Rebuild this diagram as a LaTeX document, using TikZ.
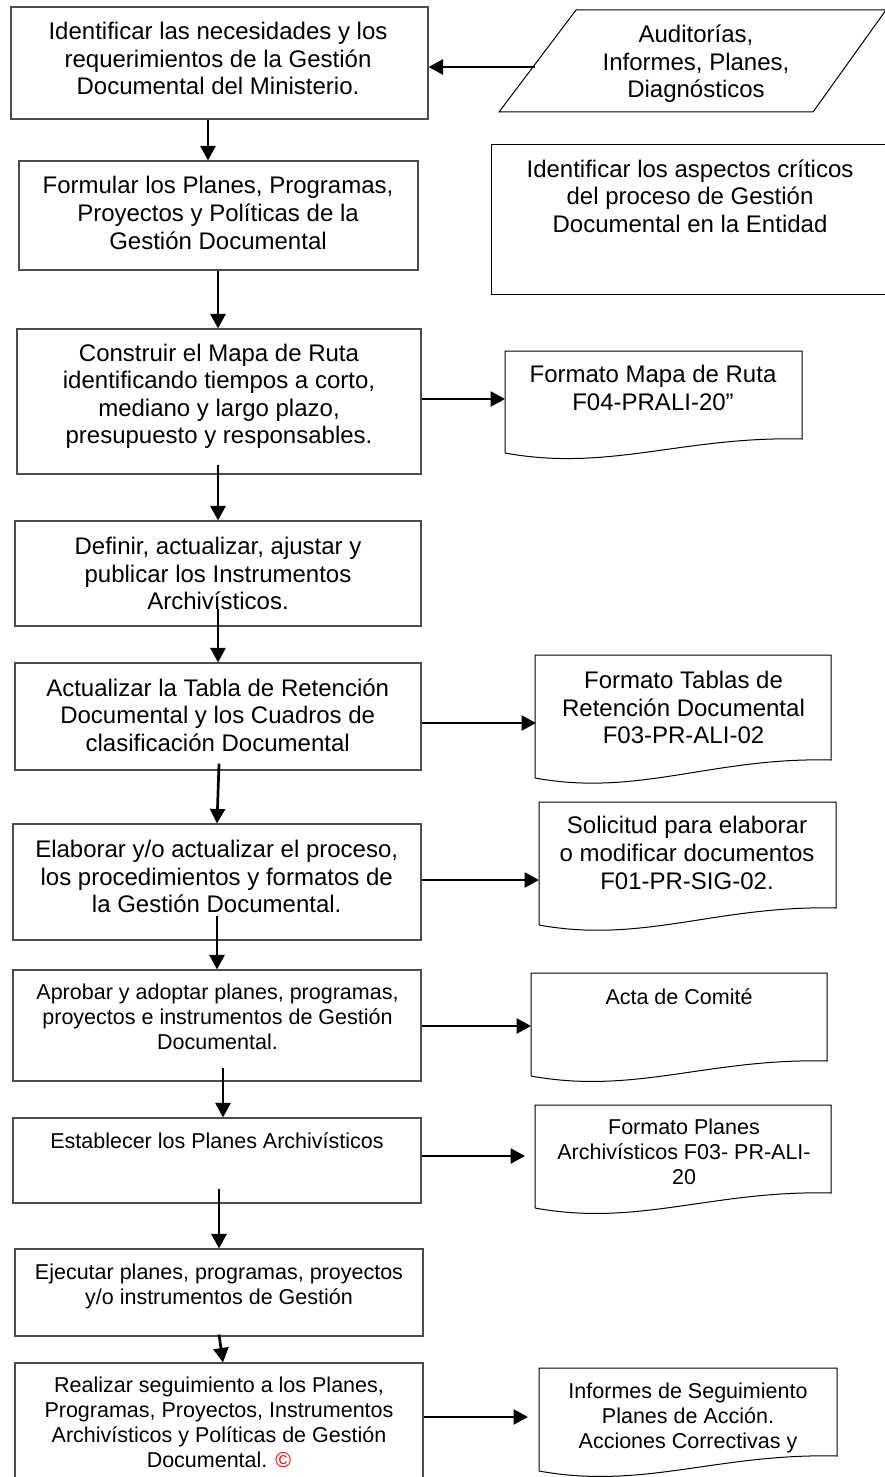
\documentclass[tikz,border=0pt]{standalone}
\usepackage{fontspec}
\setmainfont{Liberation Sans}
\usetikzlibrary{arrows.meta}

\tikzset{
  caja/.style={draw=black!70, line width=1.1pt, inner sep=0pt},
  texto/.style={align=center, inner sep=0pt, font=\fontsize{24}{27.6}\selectfont,
    execute at begin node=\strut, execute at end node=\strut},
  chico/.style={texto, font=\fontsize{21.5}{25}\selectfont},
  flecha/.style={line width=2.7pt, -{Triangle[length=14.5pt,width=15pt]}},
  hoja/.style={draw=black, line width=1pt}
}

% document shape: left, top, right, bottom at right, bottom at left
\newcommand{\dibujarhoja}[5]{%
  \draw[hoja] (#1,#5) -- (#1,#2) -- (#3,#2) -- (#3,#4)
    .. controls ({#1+0.6*(#3-#1)},{#4-3}) and ({#1+0.35*(#3-#1)},{#5+19}) .. (#1,#5);
}

\begin{document}
\begin{tikzpicture}[x=1pt,y=-1pt]
\useasboundingbox (0,0) rectangle (885,1477);
\clip (0,0) rectangle (885,1477);

% left column
\node[caja, minimum width=417pt, minimum height=112pt] (b1) at (219.5,63) {};
\node[caja, minimum width=399pt, minimum height=109pt] (b2) at (218.5,215.5) {};
\node[caja, minimum width=404pt, minimum height=145pt] (b3) at (219,401.5) {};
\node[caja, minimum width=406pt, minimum height=105pt] (b4) at (218,573.5) {};
\node[caja, minimum width=406pt, minimum height=107pt] (b5) at (218,716.5) {};
\node[caja, minimum width=408pt, minimum height=116pt] (b6) at (217,882) {};
\node[caja, minimum width=408pt, minimum height=111pt] (b7) at (217,1025.5) {};
\node[caja, minimum width=408pt, minimum height=85pt] (b8) at (217,1160.5) {};
\node[caja, minimum width=408pt, minimum height=87pt] (b9) at (219,1292.5) {};
\node[caja, minimum width=408pt, minimum height=127pt] (b10) at (219,1426.5) {};

\node[texto] (t1) at (218,62.5) {Identificar las necesidades y los\\requerimientos de la Gestión\\Documental del Ministerio.};
\node[texto] (t2) at (218,217) {Formular los Planes, Programas,\\Proyectos y Políticas de la\\Gestión Documental};
\node[texto] (t3) at (219,398) {Construir el Mapa de Ruta\\identificando tiempos a corto,\\mediano y largo plazo,\\presupuesto y responsables.};
\node[texto] (t4) at (218,577.5) {Definir, actualizar, ajustar y\\publicar los Instrumentos\\Archivísticos.};
\node[texto] (t5) at (217.7,719) {Actualizar la Tabla de Retención\\Documental y los Cuadros de\\clasificación Documental};
\node[texto] (t6) at (216.7,880.5) {Elaborar y/o actualizar el proceso,\\los procedimientos y formatos de\\la Gestión Documental.};
\node[chico] (t7) at (217.5,1020.7) {Aprobar y adoptar planes, programas,\\proyectos e instrumentos de Gestión\\Documental.};
\node[chico] (t8) at (217,1143.7) {Establecer los Planes Archivísticos};
\node[chico] (t9) at (219,1288.2) {Ejecutar planes, programas, proyectos\\y/o instrumentos de Gestión};
\node[chico] (t10) at (219,1426.2) {Realizar seguimiento a los Planes,\\Programas, Proyectos, Instrumentos\\Archivísticos y Políticas de Gestión\\Documental. {\color{red}©}};

% right column
\draw[hoja] (576,10) -- (886,10) -- (813,112) -- (499,112) -- cycle;
\node[texto] (tpar) at (696,65.5) {Auditorías,\\Informes, Planes,\\Diagnósticos};
\coordinate (par) at (535,67);
\node[draw=black, line width=1pt, inner sep=0pt, minimum width=404pt, minimum height=150pt] (crit) at (693,219) {};
\node[texto] (tcrit) at (690,200) {Identificar los aspectos críticos\\del proceso de Gestión\\Documental en la Entidad};

\dibujarhoja{505}{351}{802}{439}{453}
\dibujarhoja{535}{655}{831}{760}{778}
\dibujarhoja{539}{802}{836}{908}{925}
\dibujarhoja{531}{973}{827}{1061}{1076}
\dibujarhoja{535}{1105}{831}{1193}{1208}
\dibujarhoja{539}{1368}{837}{1456}{1471}

\node[texto] (td1) at (653,392) {Formato Mapa de Ruta\\F04-PRALI-20”};
\node[texto] (td2) at (683.5,711.5) {Formato Tablas de\\Retención Documental\\F03-PR-ALI-02};
\node[texto] (td3) at (687,857) {Solicitud para elaborar\\o modificar documentos\\F01-PR-SIG-02.};
\node[chico] (td4) at (679,999.7) {Acta de Comité};
\node[chico] (td5) at (684,1155.7) {Formato Planes\\Archivísticos F03- PR-ALI-\\20};
\node[chico] (td6) at (688,1419.2) {Informes de Seguimiento\\Planes de Acción.\\Acciones Correctivas y};

% arrow ends on the documents
\coordinate (d1) at (505,399);
\coordinate (d2) at (536,723);
\coordinate (d3) at (539,880);
\coordinate (d4) at (531,1026);
\coordinate (d5) at (525,1156);
\coordinate (d6) at (528,1417);

% connectors
\draw[flecha] (par) -- (par -| b1.east);
\foreach \a/\b/\xa/\xb/\d in {b1/b2/208/208/0, b2/b3/218/218/0, b3/b4/218/218/10, b4/b5/218/218/18,
  b5/b6/219/217/7, b6/b7/217/217/25, b7/b8/223/223/14, b8/b9/219/219/15, b9/b10/219/223/2}
  \draw[flecha] ([yshift=\d pt]\a.south -| \xa,0) -- (\b.north -| \xb,0);
\foreach \a/\d in {b3/d1, b5/d2, b6/d3, b7/d4, b8/d5, b10/d6}
  \draw[flecha] (\d -| \a.east) -- (\d);
\end{tikzpicture}
\end{document}
